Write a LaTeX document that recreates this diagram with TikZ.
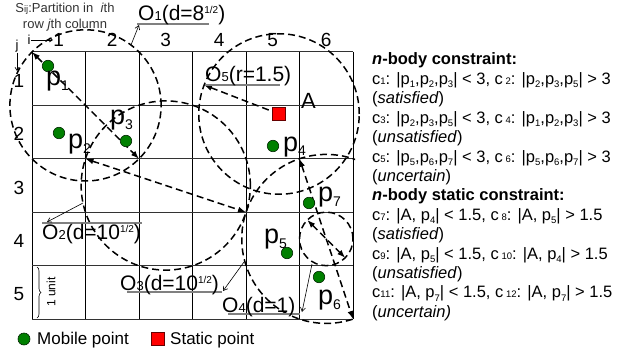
\documentclass[tikz,border=0pt]{standalone}
\usepackage{fontspec}
\setmainfont{Liberation Sans}
\usetikzlibrary{arrows.meta,decorations.pathreplacing}
\definecolor{mgreen}{HTML}{008000}
\definecolor{sred}{HTML}{FF0000}
\newcommand\mysubc[1]{{\fontsize{9.5}{10}\selectfont #1}}
\newcommand\mysubp[1]{\raisebox{-3.5pt}{\fontsize{9.5}{10}\selectfont #1}}
\newcommand\mybigsub[1]{\raisebox{-5pt}{\fontsize{14}{14}\selectfont #1}}
\newcommand\mylabsub[1]{{\fontsize{13}{13}\selectfont #1}}
\newcommand\mylabsup[1]{\raisebox{7pt}{\fontsize{10}{10}\selectfont #1}}
\begin{document}
\begin{tikzpicture}[x=1pt,y=-1pt,
 gridv/.style={line width=1pt,black},
 gridh/.style={line width=1pt,black!80},
 dcirc/.style={line width=1.5pt,dash pattern=on 7pt off 4pt},
 dbl/.style={dcirc,{Latex[length=8pt,width=6pt]}-{Latex[length=8pt,width=6pt]}},
 sgl/.style={dcirc,-{Latex[length=8pt,width=6pt]}},
 leader/.style={line width=0.6pt,-{Straight Barb[length=4pt,width=5pt]}},
 uline/.style={line width=1.2pt,black!50},
 mob/.style={circle,fill=mgreen,draw=black!70!mgreen,line width=0.6pt,minimum size=11.5pt,inner sep=0pt},
 stat/.style={rectangle,fill=sred,draw=black!60!sred,line width=0.6pt,minimum size=12.5pt,inner sep=0pt},
 plab/.style={anchor=base west,inner sep=0pt,font=\fontsize{27}{27}\selectfont},
 olab/.style={anchor=base west,inner sep=0pt,font=\fontsize{21}{21}\selectfont},
 axlab/.style={anchor=base,inner sep=0pt,font=\fontsize{19}{19}\selectfont},
 ptxt/.style={anchor=base west,inner sep=0pt,font=\fontsize{16.5}{19}\selectfont},
]
\useasboundingbox (0,0) rectangle (636,358);
% grid
\foreach \i in {0,...,6} \draw[gridv] ({32+53.5*\i},52) -- ({32+53.5*\i},319);
\foreach \j in {0,...,5} \draw[gridh] (32,{52+53.4*\j}) -- (353,{52+53.4*\j});
% axis labels
\foreach \c in {1,...,6} \node[axlab] (col\c) at ({32+53.5*\c-26.75},47) {\c};
\foreach \r in {1,...,5} \node[axlab] (row\r) at (19,{52+53.4*\r-26.7+8.5}) {\r};
% Sij
\node[font=\fontsize{13}{16}\selectfont,text=black!80,align=center,inner sep=0pt] (sij) at (65,17) {S\mysubc{ij}:Partition in\ \ \textit{i}th\\row \textit{j}th column};
\node[font=\fontsize{13}{13}\selectfont,inner sep=0.5pt] (ilab) at (29,40) {i};
\coordinate (iend) at (53,40);
\draw[line width=0.7pt,-{Straight Barb[length=3pt,width=4pt]}] (ilab.east) -- (iend);
\node[font=\fontsize{13}{13}\selectfont,inner sep=0.5pt] (jlab) at (17,46) {j};
\coordinate (jend) at (17,71);
\draw[line width=0.7pt,-{Straight Barb[length=3pt,width=4pt]}] (jlab.south) -- (jend);
% circle geometry
\coordinate (c1a) at (32,52); \coordinate (c1b) at (139,158.8); \coordinate (O1) at (85.5,105.4);
\coordinate (c2a) at (85.5,158.8); \coordinate (c2b) at (246,212.2); \coordinate (O2) at (165.75,185.5);
\coordinate (c3a) at (299.5,158.8); \coordinate (c3b) at (353,319); \coordinate (O3) at (326.25,238.9);
\coordinate (c4a) at (307.3,220); \coordinate (c4b) at (345.2,257.8);
\coordinate (Actr) at (279,114); \coordinate (c5b) at (204,85);
\draw[dcirc] (O1) circle[radius=75.6pt];
\draw[dcirc] (O2) circle[radius=84.6pt];
\begin{scope}
\clip (0,0) rectangle (355,358);
\draw[dcirc] (O3) circle[radius=84.5pt];
\end{scope}
\draw[dcirc] (O3) circle[radius=26.75pt];
\draw[dcirc] (Actr) circle[radius=80.25pt];
\draw[dbl] (c1a) -- (c1b);
\draw[dbl] (c2a) -- (c2b);
\draw[dbl] (c3a) -- (c3b);
\draw[dbl] (c4a) -- (c4b);
\draw[sgl] (Actr) -- (c5b);
% labels of circles
\draw[uline] (137,24) -- (209,24);
\node[olab] (o1lab) at (138,20.5) {O\mylabsub{1}(d=8\mylabsup{1/2})};
\draw[uline] (205,85) -- (280,85);
\node[olab] (o5lab) at (205,82) {O\mylabsub{5}(r=1.5)};
\draw[uline] (42,223) -- (142,223);
\node[olab] (o2lab) at (42,239) {O\mylabsub{2}(d=10\mylabsup{1/2})};
\draw[uline] (127,292) -- (222,292);
\node[olab] (o3lab) at (120,290) {O\mylabsub{3}(d=10\mylabsup{1/2})};
\draw[uline] (228,314) -- (300,314);
\node[olab] (o4lab) at (222,312) {O\mylabsub{4}(d=1)};
\coordinate (l1s) at (131,45); \coordinate (l1e) at (139,25);
\coordinate (l2s) at (83,203); \coordinate (l2e) at (47,222);
\coordinate (l3s) at (244,262); \coordinate (l3e) at (223,291);
\coordinate (l4s) at (312,264); \coordinate (l4e) at (302,312);
\draw[leader] (l1s) -- (l1e);
\draw[leader] (l2s) -- (l2e);
\draw[leader] (l3s) -- (l3e);
\draw[leader] (l4s) -- (l4e);
% points
\node[mob] (p1) at (48,66) {};
\node[mob] (p2) at (59,133) {};
\node[mob] (p3) at (126,141) {};
\node[mob] (p4) at (273,146) {};
\node[mob] (p5) at (287,253) {};
\node[mob] (p6) at (319,277) {};
\node[mob] (p7) at (309,203) {};
\node[stat] (A) at (Actr) {};
\node[plab] (lp1) at (46,86) {p\mybigsub{1}};
\node[plab] (lp2) at (68,149) {p\mybigsub{2}};
\node[plab] (lp3) at (110,125) {p\mybigsub{3}};
\node[plab] (lp4) at (283,151) {p\mybigsub{4}};
\node[plab] (lp5) at (264,243) {p\mybigsub{5}};
\node[plab] (lp6) at (318,304) {p\mybigsub{6}};
\node[plab] (lp7) at (318,201) {p\mybigsub{7}};
\node[anchor=base west,inner sep=0pt,font=\fontsize{22}{22}\selectfont] (Alab) at (301,109) {A};
% brace
\coordinate (bt) at (37,267); \coordinate (bb) at (37,318);
\draw[decorate,decoration={brace,amplitude=4pt},line width=0.6pt] (bt) -- (bb);
\node[rotate=90,font=\fontsize{12}{12}\selectfont,inner sep=0pt] (unit) at (51,292) {1 unit};
% legend
\node[mob,minimum size=12pt] (lgm) at (24,339) {};
\node[anchor=west,font=\fontsize{17}{17}\selectfont,inner sep=0pt] (lgmt) at (37,340) {Mobile point};
\node[stat,minimum size=13pt] (lgs) at (158,339) {};
\node[anchor=west,font=\fontsize{17}{17}\selectfont,inner sep=0pt] (lgst) at (170,340) {Static point};
% right panel
\foreach \t [count=\k from 0] in {
 {\textbf{\textit{n}-body constraint:}},
 {c\mysubc{1}: |p\mysubp{1},p\mysubp{2},p\mysubp{3}| < 3, c\,\mysubc{2}: |p\mysubp{2},p\mysubp{3},p\mysubp{5}| > 3},
 {(\textit{satisfied})},
 {c\mysubc{3}: |p\mysubp{2},p\mysubp{3},p\mysubp{5}| < 3, c\,\mysubc{4}: |p\mysubp{1},p\mysubp{2},p\mysubp{3}| > 3},
 {(\textit{unsatisfied})},
 {c\mysubc{5}: |p\mysubp{5},p\mysubp{6},p\mysubp{7}| < 3, c\,\mysubc{6}: |p\mysubp{5},p\mysubp{6},p\mysubp{7}| > 3},
 {(\textit{uncertain})},
 {\textbf{\textit{n}-body static constraint:}},
 {c\mysubc{7}: |A, p\mysubp{4}| < 1.5, c\,\mysubc{8}: |A, p\mysubp{5}| > 1.5},
 {(\textit{satisfied})},
 {c\mysubc{9}: |A, p\mysubp{5}| < 1.5, c\,\mysubc{10}: |A, p\mysubp{4}| > 1.5},
 {(\textit{unsatisfied})},
 {c\mysubc{11}: |A, p\mysubp{7}| < 1.5, c\,\mysubc{12}: |A, p\mysubp{7}| > 1.5},
 {(\textit{uncertain)}}
} \node[ptxt] (t\k) at (372,{65+19.4*\k}) {\t};
\end{tikzpicture}
\end{document}
